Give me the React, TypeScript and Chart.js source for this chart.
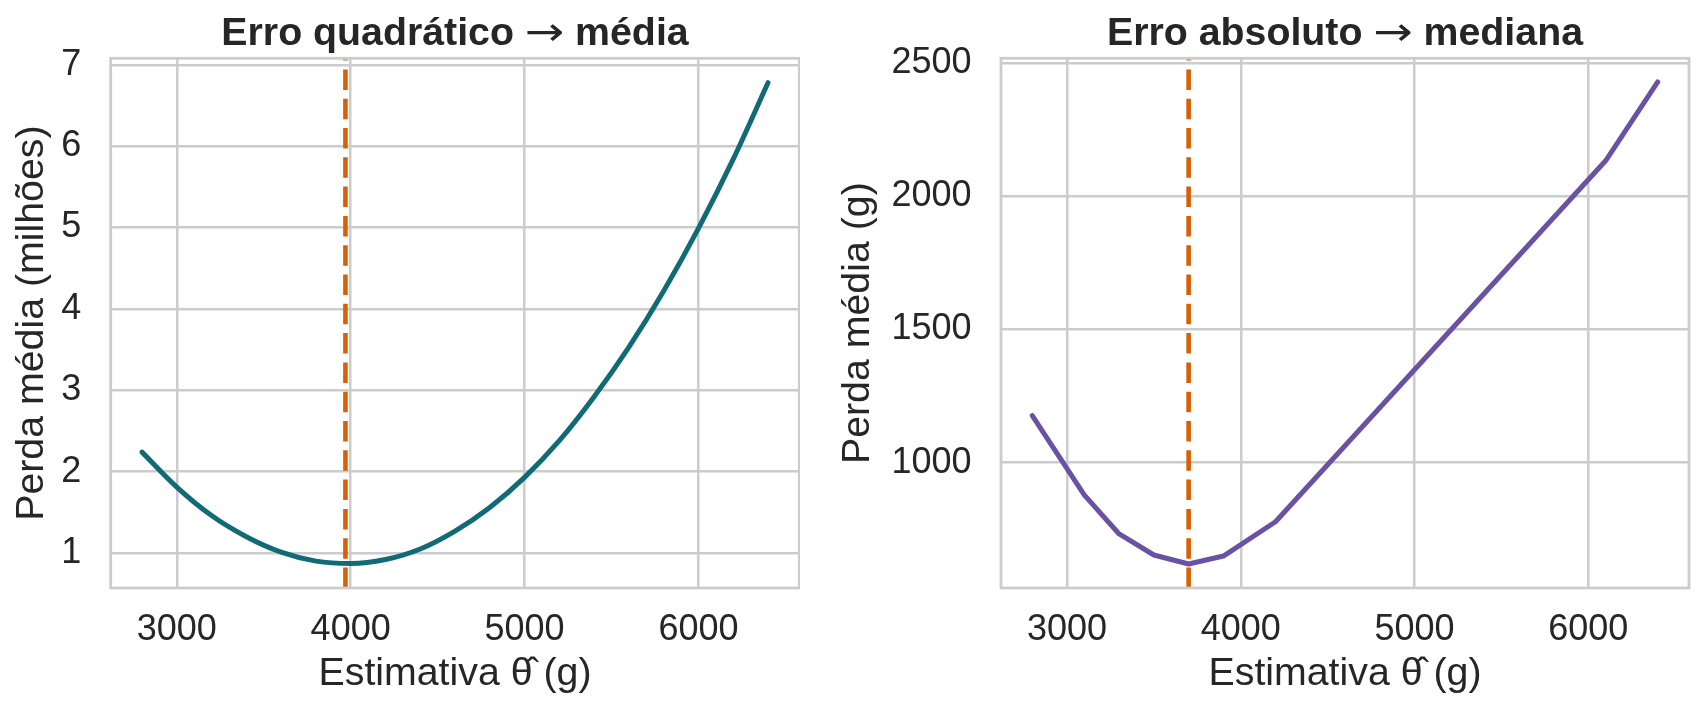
import React, { useEffect, useRef } from "react";
import { Chart, registerables } from "chart.js";

Chart.register(...registerables);

// shared x axis
const xTicks = [3000, 4000, 5000, 6000];
const xMin = 2620;
const xMax = 6580;

// squared error -> mean (loss in millions)
const sqX = [2800, 3000, 3200, 3400, 3600, 3800, 4000, 4200, 4400, 4600, 4800, 5000, 5200, 5400, 5600, 5800, 6000, 6200, 6400];
const sqY = [2.24, 1.81, 1.46, 1.2, 1.01, 0.9, 0.87, 0.92, 1.05, 1.27, 1.56, 1.93, 2.38, 2.92, 3.53, 4.22, 4.99, 5.84, 6.78];
const sqYTicks = [1, 2, 3, 4, 5, 6, 7];
const sqMean = 3970;

// absolute error -> median (loss in g)
const absX = [2800, 3100, 3300, 3500, 3700, 3900, 4200, 6100, 6400];
const absY = [1177, 878, 732, 653, 619, 649, 778, 2134, 2430];
const absYTicks = [1000, 1500, 2000, 2500];
const absMedian = 3700;

const TEXT = "#262626";
const GRID = "#cccccc";
const ORANGE = "#d95f02";
const FONT = "'Liberation Sans', Arial, sans-serif";
const ARROW_FONT = "'DejaVu Sans', sans-serif";

interface PanelProps {
  left: number;
  width: number;
  title: string;
  yTitle: string;
  xs: number[];
  ys: number[];
  yTicks: number[];
  yMin: number;
  yMax: number;
  marker: number;
  color: string;
  smooth: boolean;
  yAxisWidth: number;
  padRight: number;
  yTitlePad: number;
}

const LossPanel: React.FC<PanelProps> = (p) => {
  const canvasRef = useRef<HTMLCanvasElement | null>(null);

  useEffect(() => {
    if (!canvasRef.current) return;

    const extras = {
      id: "extras",
      beforeDatasetsDraw(chart: any) {
        // dashed marker (mean / median), drawn from the bottom up
        const { ctx, chartArea } = chart;
        const x = chart.scales.x.getPixelForValue(p.marker);
        ctx.save();
        ctx.beginPath();
        ctx.setLineDash([20.5, 8.8]);
        ctx.lineWidth = 4.6;
        ctx.strokeStyle = ORANGE;
        ctx.moveTo(x, chartArea.bottom);
        ctx.lineTo(x, chartArea.top);
        ctx.stroke();
        ctx.restore();
      },
      afterDatasetsDraw(chart: any) {
        const { ctx, chartArea } = chart;
        ctx.save();
        // spines
        ctx.lineWidth = 2.8;
        ctx.strokeStyle = GRID;
        ctx.strokeRect(chartArea.left, chartArea.top, chartArea.right - chartArea.left, chartArea.bottom - chartArea.top);

        // title; the arrow is a thin long glyph in the reference
        const [before, after] = p.title.split("\u2192");
        const bold = `bold 39.3px ${FONT}`;
        ctx.font = bold;
        const w0 = ctx.measureText(before).width;
        const wA = ctx.measureText("\u2192").width;
        const w2 = ctx.measureText(after).width;
        let x = (chartArea.left + chartArea.right) / 2 - (w0 + wA + w2) / 2;
        const y = 45;
        ctx.fillStyle = TEXT;
        ctx.textBaseline = "alphabetic";
        ctx.textAlign = "left";
        ctx.fillText(before, x, y);
        x += w0;

        ctx.font = `39.3px ${ARROW_FONT}`;
        const wD = ctx.measureText("\u2192").width;
        ctx.save();
        ctx.translate(x + wA / 2, y);
        ctx.scale(1.2, 1);
        ctx.fillText("\u2192", -wD / 2, 0);
        ctx.restore();
        x += wA;

        ctx.font = bold;
        ctx.fillText(after, x, y);
        ctx.restore();
      },
    };

    const chart = new Chart(canvasRef.current, {
      type: "line",
      data: {
        datasets: [
          {
            data: p.xs.map((x, i) => ({ x, y: p.ys[i] })),
            borderColor: p.color,
            borderWidth: 5,
            pointRadius: 0,
            fill: false,
            borderCapStyle: "round",
            borderJoinStyle: "round",
            cubicInterpolationMode: p.smooth ? "monotone" : "default",
            tension: 0,
          },
        ],
      },
      options: {
        responsive: false,
        animation: false,
        layout: { padding: { left: 0, right: p.padRight, top: 58.3, bottom: 0 } },
        plugins: {
          legend: { display: false },
          tooltip: { enabled: false },
          title: { display: false },
        },
        scales: {
          x: {
            type: "linear",
            min: xMin,
            max: xMax,
            afterBuildTicks: (scale: any) => {
              scale.ticks = xTicks.map((value) => ({ value }));
            },
            afterFit: (scale: any) => {
              scale.height = 125;
            },
            ticks: {
              padding: 20.6,
              color: TEXT,
              font: { family: FONT, size: 36 },
              maxRotation: 0,
              autoSkip: false,
              callback: (v: any) => String(v),
            },
            grid: { color: GRID, lineWidth: 2.5, drawTicks: false },
            border: { display: false },
            title: {
              display: true,
              text: "Estimativa \u03B8\u0302 (g)",
              color: TEXT,
              font: { family: FONT, size: 39.3 },
              padding: { top: 0, bottom: 15 },
            },
          },
          y: {
            type: "linear",
            min: p.yMin,
            max: p.yMax,
            afterBuildTicks: (scale: any) => {
              scale.ticks = p.yTicks.map((value) => ({ value }));
            },
            afterFit: (scale: any) => {
              scale.width = p.yAxisWidth;
            },
            ticks: {
              padding: 29.5,
              color: TEXT,
              font: { family: FONT, size: 36 },
              autoSkip: false,
              callback: (v: any) => String(v),
            },
            grid: { color: GRID, lineWidth: 2.5, drawTicks: false },
            border: { display: false },
            title: {
              display: true,
              text: p.yTitle,
              color: TEXT,
              font: { family: FONT, size: 39.3 },
              padding: { top: p.yTitlePad, bottom: 0 },
            },
          },
        },
      },
      plugins: [extras],
    } as any);

    return () => {
      chart.destroy();
    };
  }, [p]);

  return (
    <canvas
      ref={canvasRef}
      width={p.width}
      height={713}
      style={{ position: "absolute", left: p.left, top: 0, width: p.width, height: 713, display: "block" }}
    />
  );
};

const leftPanel: PanelProps = {
  left: 0,
  width: 800,
  title: "Erro quadrático \u2192 média",
  yTitle: "Perda média (milhões)",
  xs: sqX,
  ys: sqY,
  yTicks: sqYTicks,
  yMin: 0.57,
  yMax: 7.08,
  marker: sqMean,
  color: "#106b77",
  smooth: true,
  yAxisWidth: 110.7,
  padRight: 0.7,
  yTitlePad: 8.1,
};

const rightPanel: PanelProps = {
  left: 800,
  width: 905,
  title: "Erro absoluto \u2192 mediana",
  yTitle: "Perda média (g)",
  xs: absX,
  ys: absY,
  yTicks: absYTicks,
  yMin: 529,
  yMax: 2519,
  marker: absMedian,
  color: "#6a51a3",
  smooth: false,
  yAxisWidth: 201,
  padRight: 16,
  yTitlePad: 34.8,
};

export default function App() {
  return (
    <div style={{ position: "absolute", left: 0, top: 0, width: 1705, height: 713, background: "#fff" }}>
      <LossPanel {...leftPanel} />
      <LossPanel {...rightPanel} />
    </div>
  );
}
